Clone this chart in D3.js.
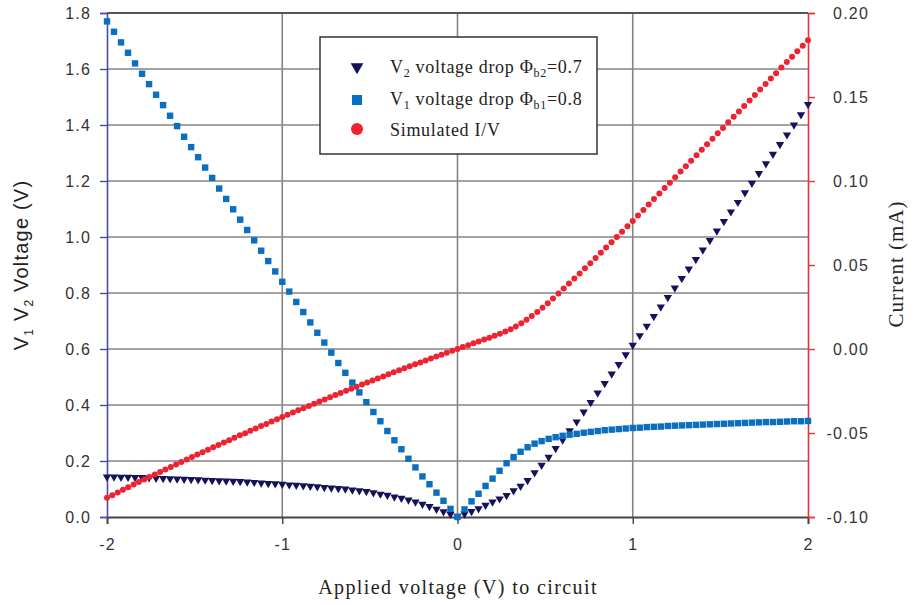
<!DOCTYPE html>
<html>
<head>
<meta charset="utf-8">
<script src="https://cdn.jsdelivr.net/npm/d3@7"></script>
<style>
  html, body { margin: 0; padding: 0; background: #fff; }
  svg { display: block; }
</style>
</head>
<body>
<svg id="chart" width="917" height="605"></svg>
<script>
// Bias sweep used for the two junction voltage-drop series (V)
const vSweep = [-2.00,-1.96,-1.92,-1.88,-1.84,-1.80,-1.76,-1.72,-1.68,-1.64,-1.60,-1.56,-1.52,-1.48,-1.44,-1.40,-1.36,-1.32,-1.28,-1.24,-1.20,-1.16,-1.12,-1.08,-1.04,-1.00,-0.96,-0.92,-0.88,-0.84,-0.80,-0.76,-0.72,-0.68,-0.64,-0.60,-0.56,-0.52,-0.48,-0.44,-0.40,-0.36,-0.32,-0.28,-0.24,-0.20,-0.16,-0.12,-0.08,-0.04,0.00,0.04,0.08,0.12,0.16,0.20,0.24,0.28,0.32,0.36,0.40,0.44,0.48,0.52,0.56,0.60,0.64,0.68,0.72,0.76,0.80,0.84,0.88,0.92,0.96,1.00,1.04,1.08,1.12,1.16,1.20,1.24,1.28,1.32,1.36,1.40,1.44,1.48,1.52,1.56,1.60,1.64,1.68,1.72,1.76,1.80,1.84,1.88,1.92,1.96,2.00];

// V1 voltage drop, barrier 0.8 (V)
const v1Drop = [1.770,1.733,1.695,1.658,1.620,1.583,1.546,1.508,1.471,1.433,1.396,1.358,1.321,1.285,1.248,1.211,1.173,1.136,1.099,1.062,1.025,0.988,0.951,0.914,0.877,0.840,0.805,0.768,0.732,0.695,0.658,0.623,0.587,0.550,0.515,0.480,0.445,0.410,0.375,0.342,0.307,0.274,0.242,0.208,0.177,0.145,0.117,0.087,0.058,0.029,0.000,0.027,0.056,0.083,0.111,0.137,0.165,0.192,0.214,0.233,0.249,0.262,0.271,0.279,0.285,0.290,0.294,0.297,0.301,0.304,0.307,0.310,0.312,0.314,0.316,0.318,0.319,0.321,0.322,0.323,0.325,0.326,0.327,0.328,0.329,0.330,0.331,0.332,0.333,0.334,0.335,0.336,0.337,0.338,0.339,0.339,0.340,0.341,0.342,0.342,0.343];

// V2 voltage drop, barrier 0.7 (V)
const v2Drop = [0.143,0.143,0.142,0.142,0.141,0.141,0.140,0.139,0.138,0.137,0.136,0.135,0.134,0.133,0.132,0.131,0.130,0.129,0.128,0.127,0.125,0.124,0.122,0.120,0.119,0.117,0.115,0.114,0.112,0.110,0.108,0.106,0.104,0.102,0.100,0.097,0.094,0.091,0.087,0.082,0.078,0.072,0.067,0.061,0.054,0.046,0.038,0.028,0.019,0.010,0.003,0.011,0.020,0.030,0.042,0.054,0.065,0.077,0.094,0.110,0.131,0.158,0.185,0.214,0.245,0.275,0.308,0.340,0.375,0.409,0.443,0.477,0.511,0.545,0.580,0.614,0.648,0.682,0.716,0.750,0.784,0.818,0.852,0.886,0.920,0.954,0.988,1.022,1.056,1.090,1.124,1.158,1.192,1.227,1.262,1.296,1.331,1.365,1.400,1.437,1.474];

// Bias sweep of the simulated I/V curve (V)
const iSweep = [-2.000,-1.970,-1.939,-1.909,-1.879,-1.848,-1.818,-1.788,-1.758,-1.727,-1.697,-1.667,-1.636,-1.606,-1.576,-1.545,-1.515,-1.485,-1.455,-1.424,-1.394,-1.364,-1.333,-1.303,-1.273,-1.242,-1.212,-1.182,-1.152,-1.121,-1.091,-1.061,-1.030,
  -1.000,-0.970,-0.939,-0.909,-0.879,-0.848,-0.818,-0.788,-0.758,-0.727,-0.697,-0.667,-0.636,-0.606,-0.576,-0.545,-0.515,-0.485,-0.455,-0.424,-0.394,-0.364,-0.333,-0.303,-0.273,-0.242,-0.212,-0.182,-0.152,-0.121,-0.091,-0.061,-0.030,
  0.000,0.030,0.061,0.091,0.121,0.152,0.182,0.212,0.242,0.273,0.303,0.333,0.364,0.394,0.424,0.455,0.485,0.515,0.545,0.576,0.606,0.636,0.667,0.697,0.727,0.758,0.788,0.818,0.848,0.879,0.909,0.939,0.970,
  1.000,1.030,1.061,1.091,1.121,1.152,1.182,1.212,1.242,1.273,1.303,1.333,1.364,1.394,1.424,1.455,1.485,1.515,1.545,1.576,1.606,1.636,1.667,1.697,1.727,1.758,1.788,1.818,1.848,1.879,1.909,1.939,1.970,
  2.000];

// Simulated current (mA)
const iSim = [-0.0885,-0.0870,-0.0854,-0.0838,-0.0823,-0.0807,-0.0792,-0.0777,-0.0762,-0.0747,-0.0732,-0.0717,-0.0702,-0.0687,-0.0672,-0.0657,-0.0643,-0.0628,-0.0614,-0.0599,-0.0585,-0.0571,-0.0557,-0.0543,-0.0529,-0.0514,-0.0501,-0.0487,-0.0473,-0.0459,-0.0446,-0.0432,-0.0418,
  -0.0405,-0.0392,-0.0378,-0.0365,-0.0352,-0.0339,-0.0326,-0.0313,-0.0300,-0.0287,-0.0274,-0.0262,-0.0249,-0.0237,-0.0224,-0.0211,-0.0199,-0.0187,-0.0175,-0.0163,-0.0151,-0.0139,-0.0127,-0.0115,-0.0103,-0.0091,-0.0080,-0.0068,-0.0057,-0.0045,-0.0034,-0.0023,-0.0011,
  0.0000,0.0012,0.0023,0.0034,0.0045,0.0056,0.0067,0.0079,0.0091,0.0104,0.0118,0.0134,0.0153,0.0174,0.0196,0.0220,0.0246,0.0273,0.0301,0.0330,0.0360,0.0390,0.0420,0.0450,0.0480,0.0511,0.0542,0.0573,0.0604,0.0635,0.0667,0.0698,0.0730,
  0.0762,0.0795,0.0827,0.0860,0.0893,0.0925,0.0958,0.0990,0.1023,0.1056,0.1088,0.1121,0.1153,0.1186,0.1219,0.1251,0.1284,0.1316,0.1349,0.1382,0.1414,0.1447,0.1479,0.1512,0.1545,0.1577,0.1610,0.1642,0.1675,0.1708,0.1740,0.1773,0.1805,
  0.1838];

// Tick values
const xTicks = [-2, -1, 0, 1, 2];
const leftTicks = [0, 0.2, 0.4, 0.6, 0.8, 1.0, 1.2, 1.4, 1.6, 1.8];
const rightTicks = [-0.10, -0.05, 0.00, 0.05, 0.10, 0.15, 0.20];

const COL_V1 = "#0b6fbf";
const COL_V2 = "#15125a";
const COL_I = "#ee2231";
const SANS = "Liberation Sans, Arial, sans-serif";
const SERIF = "Liberation Serif, Times New Roman, serif";

const svg = d3.select("#chart");
const L = 107, R = 808, T = 13, B = 517;

const x = d3.scaleLinear().domain([-2, 2]).range([L, R]);
const yL = d3.scaleLinear().domain([0, 1.8]).range([B, T]);
const yR = d3.scaleLinear().domain([-0.1, 0.2]).range([B, T]);

// gridlines
const grid = svg.append("g");
grid.selectAll("line.h").data(leftTicks.filter(d => d > 0 && d < 1.8)).join("line")
  .attr("x1", L).attr("x2", R)
  .attr("y1", d => yL(d)).attr("y2", d => yL(d))
  .attr("stroke", "#858585").attr("stroke-width", 1.6);
grid.selectAll("line.v").data(xTicks.filter(d => d > -2 && d < 2)).join("line")
  .attr("x1", d => x(d)).attr("x2", d => x(d))
  .attr("y1", T).attr("y2", B)
  .attr("stroke", "#858585").attr("stroke-width", 1.6);
// top frame line
grid.append("line").attr("x1", L).attr("x2", R).attr("y1", yL(1.8)).attr("y2", yL(1.8))
  .attr("stroke", "#555").attr("stroke-width", 1.8);

function tickText(sel) {
  sel.selectAll("text").attr("font-family", SANS).attr("font-size", 16)
    .attr("fill", "#333").attr("letter-spacing", 1.2);
}

// bottom axis
const gx = svg.append("g").attr("transform", `translate(0,${B})`)
  .call(d3.axisBottom(x).tickValues(xTicks).tickFormat(d => String(d)).tickSize(7).tickPadding(15));
gx.select(".domain").attr("stroke", "#444").attr("stroke-width", 1.8);
gx.selectAll(".tick line").attr("stroke", "#444").attr("stroke-width", 1.4);
tickText(gx);

// left axis
const gl = svg.append("g").attr("transform", `translate(${L},0)`)
  .call(d3.axisLeft(yL).tickValues(leftTicks).tickFormat(d => d.toFixed(1)).tickSize(7).tickPadding(9));
gl.select(".domain").attr("stroke", "#4b4ba6").attr("stroke-width", 1.6);
gl.selectAll(".tick line").attr("stroke", "#4b4ba6").attr("stroke-width", 1.4);
tickText(gl);

// right axis
const gr = svg.append("g").attr("transform", `translate(${R},0)`)
  .call(d3.axisRight(yR).tickValues(rightTicks).tickFormat(d => d.toFixed(2)).tickSize(7));
gr.select(".domain").attr("stroke", "#e8323a").attr("stroke-width", 1.6);
gr.selectAll(".tick line").attr("stroke", "#e8323a").attr("stroke-width", 1.4);
tickText(gr);
gr.selectAll("text").attr("text-anchor", "end").attr("x", 61);

// series: V2 triangles
const tri = d3.symbol().type(d3.symbolTriangle).size(30);
svg.append("g").selectAll("path").data(vSweep.map((v, i) => [v, v2Drop[i]])).join("path")
  .attr("d", tri)
  .attr("transform", d => `translate(${x(d[0])},${yL(d[1])}) rotate(180)`)
  .attr("fill", COL_V2);

// simulated I/V circles
svg.append("g").selectAll("circle").data(iSweep.map((v, i) => [v, iSim[i]])).join("circle")
  .attr("cx", d => x(d[0])).attr("cy", d => yR(d[1])).attr("r", 3)
  .attr("fill", COL_I);

// V1 squares
const sq = 6.4;
svg.append("g").selectAll("rect").data(vSweep.map((v, i) => [v, v1Drop[i]])).join("rect")
  .attr("x", d => x(d[0]) - sq / 2).attr("y", d => yL(d[1]) - sq / 2)
  .attr("width", sq).attr("height", sq)
  .attr("fill", COL_V1);

// axis titles
const lt = svg.append("text").attr("transform", "translate(28,265) rotate(-90)")
  .attr("text-anchor", "middle").attr("font-family", SANS).attr("font-size", 20)
  .attr("fill", "#222").attr("letter-spacing", 1.2);
lt.append("tspan").text("V");
lt.append("tspan").text("1").attr("font-size", 12).attr("dy", 5);
lt.append("tspan").text("  V").attr("dy", -5);
lt.append("tspan").text("2").attr("font-size", 12).attr("dy", 5);
lt.append("tspan").text(" Voltage (V)").attr("dy", -5);

svg.append("text").attr("transform", "translate(903,264) rotate(-90)")
  .attr("text-anchor", "middle").attr("font-family", SERIF).attr("font-size", 21)
  .attr("fill", "#222").attr("letter-spacing", 1)
  .text("Current (mA)");

svg.append("text").attr("x", 458).attr("y", 594)
  .attr("text-anchor", "middle").attr("font-family", SERIF).attr("font-size", 20).attr("fill", "#222")
  .attr("letter-spacing", 1.4)
  .text("Applied voltage (V) to circuit");

// legend
const lg = svg.append("g");
lg.append("rect").attr("x", 320).attr("y", 37).attr("width", 277).attr("height", 117)
  .attr("fill", "#fff").attr("stroke", "#333").attr("stroke-width", 1.5);
lg.append("path").attr("d", d3.symbol().type(d3.symbolTriangle).size(70))
  .attr("transform", "translate(357,67) rotate(180)").attr("fill", COL_V2);
lg.append("rect").attr("x", 352).attr("y", 95).attr("width", 10).attr("height", 10).attr("fill", COL_V1);
lg.append("circle").attr("cx", 357).attr("cy", 129).attr("r", 6).attr("fill", COL_I);

function legendLabel(y, parts) {
  const t = lg.append("text").attr("x", 390).attr("y", y)
    .attr("font-family", SERIF).attr("font-size", 18).attr("fill", "#222").attr("letter-spacing", 0.7);
  parts.forEach(p => {
    const s = t.append("tspan").text(p.t);
    if (p.sub) s.attr("font-size", 12).attr("dy", 4);
    if (p.up) s.attr("dy", -4);
  });
}
legendLabel(73, [{t: "V"}, {t: "2", sub: true}, {t: " voltage drop Φ", up: true}, {t: "b2", sub: true}, {t: "=0.7", up: true}]);
legendLabel(105, [{t: "V"}, {t: "1", sub: true}, {t: " voltage drop Φ", up: true}, {t: "b1", sub: true}, {t: "=0.8", up: true}]);
legendLabel(136, [{t: "Simulated I/V"}]);
</script>
</body>
</html>
